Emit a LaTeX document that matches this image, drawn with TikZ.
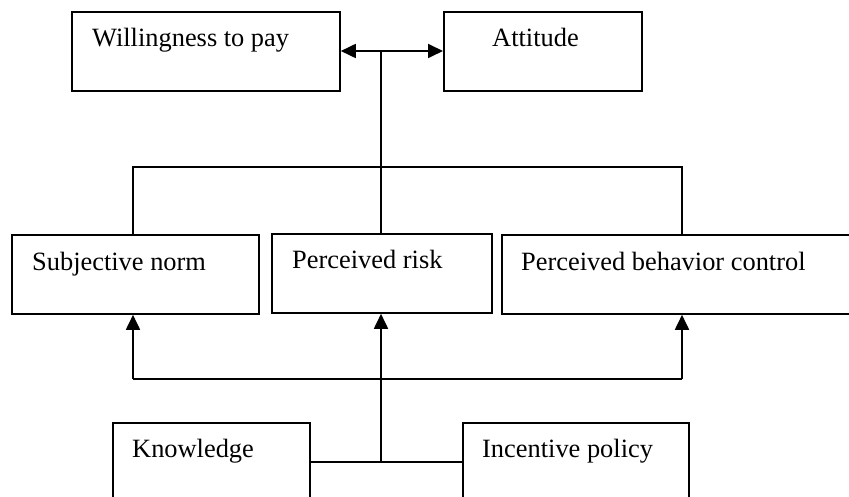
\documentclass[tikz,border=0pt]{standalone}
\usepackage{fontspec}
\setmainfont{Liberation Serif}
\usetikzlibrary{arrows.meta}
\begin{document}
\begin{tikzpicture}[x=1pt,y=-1pt,
  box/.style={draw,line width=1.8pt,rectangle,inner sep=0pt,anchor=north west},
  lbl/.style={anchor=base west,inner sep=0pt,font=\fontsize{26.4}{30}\selectfont},
  conn/.style={line width=1.8pt},
  arr/.style={conn,-{Triangle[length=15pt,width=14pt]}},
  darr/.style={conn,{Triangle[length=15pt,width=14pt]}-{Triangle[length=15pt,width=14pt]}}]
\useasboundingbox (0,0) rectangle (849,497);
\clip (0,0) rectangle (849,497);
% boxes
\node[box,minimum width=268pt,minimum height=79pt] (wtp) at (71,11) {};
\node[box,minimum width=198pt,minimum height=79pt] (att) at (443,11) {};
\node[box,minimum width=247pt,minimum height=79pt] (sn) at (11,234) {};
\node[box,minimum width=220pt,minimum height=79pt] (pr) at (271,233) {};
\node[box,minimum width=360pt,minimum height=79pt] (pbc) at (501,234) {};
\node[box,minimum width=197pt,minimum height=100pt] (kn) at (112,422) {};
\node[box,minimum width=226pt,minimum height=100pt] (ip) at (462,422) {};
% labels
\node[lbl] (twtp) at (92,47) {Willingness to pay};
\node[lbl] (tatt) at (492,47) {Attitude};
\node[lbl] (tsn) at (32,270) {Subjective norm};
\node[lbl] (tpr) at (292,269) {Perceived risk};
\node[lbl] (tpbc) at (521,270) {Perceived behavior control};
\node[lbl] (tkn) at (132,457.5) {Knowledge};
\node[lbl] (tip) at (482,457.5) {Incentive policy};
% coordinates
\coordinate (top) at (381,51);
\coordinate (ub) at (381,167);
\coordinate (ubl) at (133,167);
\coordinate (ubr) at (682,167);
\coordinate (lb) at (381,379);
\coordinate (lbl) at (133,379);
\coordinate (lbr) at (682,379);
\coordinate (jn) at (381,462);
% top connectors
\draw[darr] (wtp.east |- top) -- (att.west |- top);
\draw[conn] (top) -- (pr.north -| top);
\draw[conn] (ubl |- sn.north) -- (ubl) -- (ubr) -- (ubr |- pbc.north);
% bottom connectors
\draw[conn] (kn.east |- jn) -- (ip.west |- jn);
\draw[arr] (jn) -- (jn |- pr.south);
\draw[arr] (lbl) -- (lbl |- sn.south);
\draw[arr] (lbr) -- (lbr |- pbc.south);
\draw[conn] (lbl) -- (lbr);
\end{tikzpicture}
\end{document}
